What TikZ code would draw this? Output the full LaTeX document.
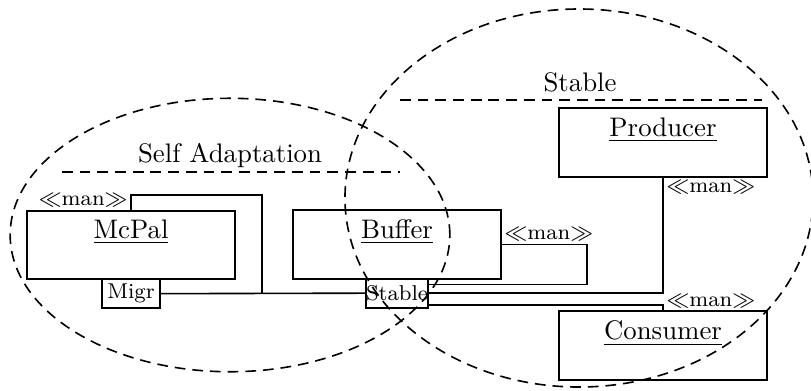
\documentclass[tikz,border=0pt]{standalone}
\usetikzlibrary{positioning}
\begin{document}
\begin{tikzpicture}[x=0.373pt,y=-0.373pt]
\tikzset{comp/.style = {draw, thick, rectangle, minimum width=77.6pt, minimum height=25.5pt, inner sep=0pt, outer sep=0pt},
         port/.style = {draw, thick, rectangle, minimum width=21.5pt, minimum height=10.8pt, inner sep=0pt, outer sep=0pt, font=\footnotesize},
         man/.style = {inner sep=1pt, font=\footnotesize},
         region/.style = {semithick, dash pattern=on 4pt off 2.6pt}}
\useasboundingbox (0,0) rectangle (811,390);
\node[comp,label={[anchor=north]north:\underline{McPal}}] (mcpal) at (131,245) {};
\node[comp,label={[anchor=north]north:\underline{Buffer}}] (buffer) at (397,244.5) {};
\node[comp,label={[anchor=north]north:\underline{Producer}}] (producer) at (663,142.5) {};
\node[comp,label={[anchor=north]north:\underline{Consumer}}] (consumer) at (663,345.5) {};
\node[port,below=0pt of mcpal] (migr) {Migr};
\node[port,below=0pt of buffer] (stable) {Stable};
\coordinate (mj) at (262,293.5);
\draw[semithick] (migr.east) -- (stable.west);
\draw[semithick] (mcpal.north) node[man,anchor=south east] {$\ll$man$\gg$} -- ++(0,-16) -| (mj);
\draw[semithick] (buffer.east) node[man,anchor=south west] {$\ll$man$\gg$} -- ++(86,0) |- ([yshift=3.2pt]stable.east);
\draw[semithick] (producer.south) node[man,anchor=north west] {$\ll$man$\gg$} |- (stable.east);
\draw[semithick] ([yshift=-4.3pt]stable.east) -| (consumer.north) node[man,anchor=south west] {$\ll$man$\gg$};
% regions
\node (selfad) at (230,155) {Self Adaptation};
\node (stab) at (580,82) {Stable};
\draw[region] (62,172) -- (400,172);
\draw[region] (400,100) -- (762,100);
\draw[region] (230,235) ellipse [x radius=82pt, y radius=51pt];
\draw[region] (579,198) ellipse [x radius=87.3pt, y radius=70.5pt];
\end{tikzpicture}
\end{document}
